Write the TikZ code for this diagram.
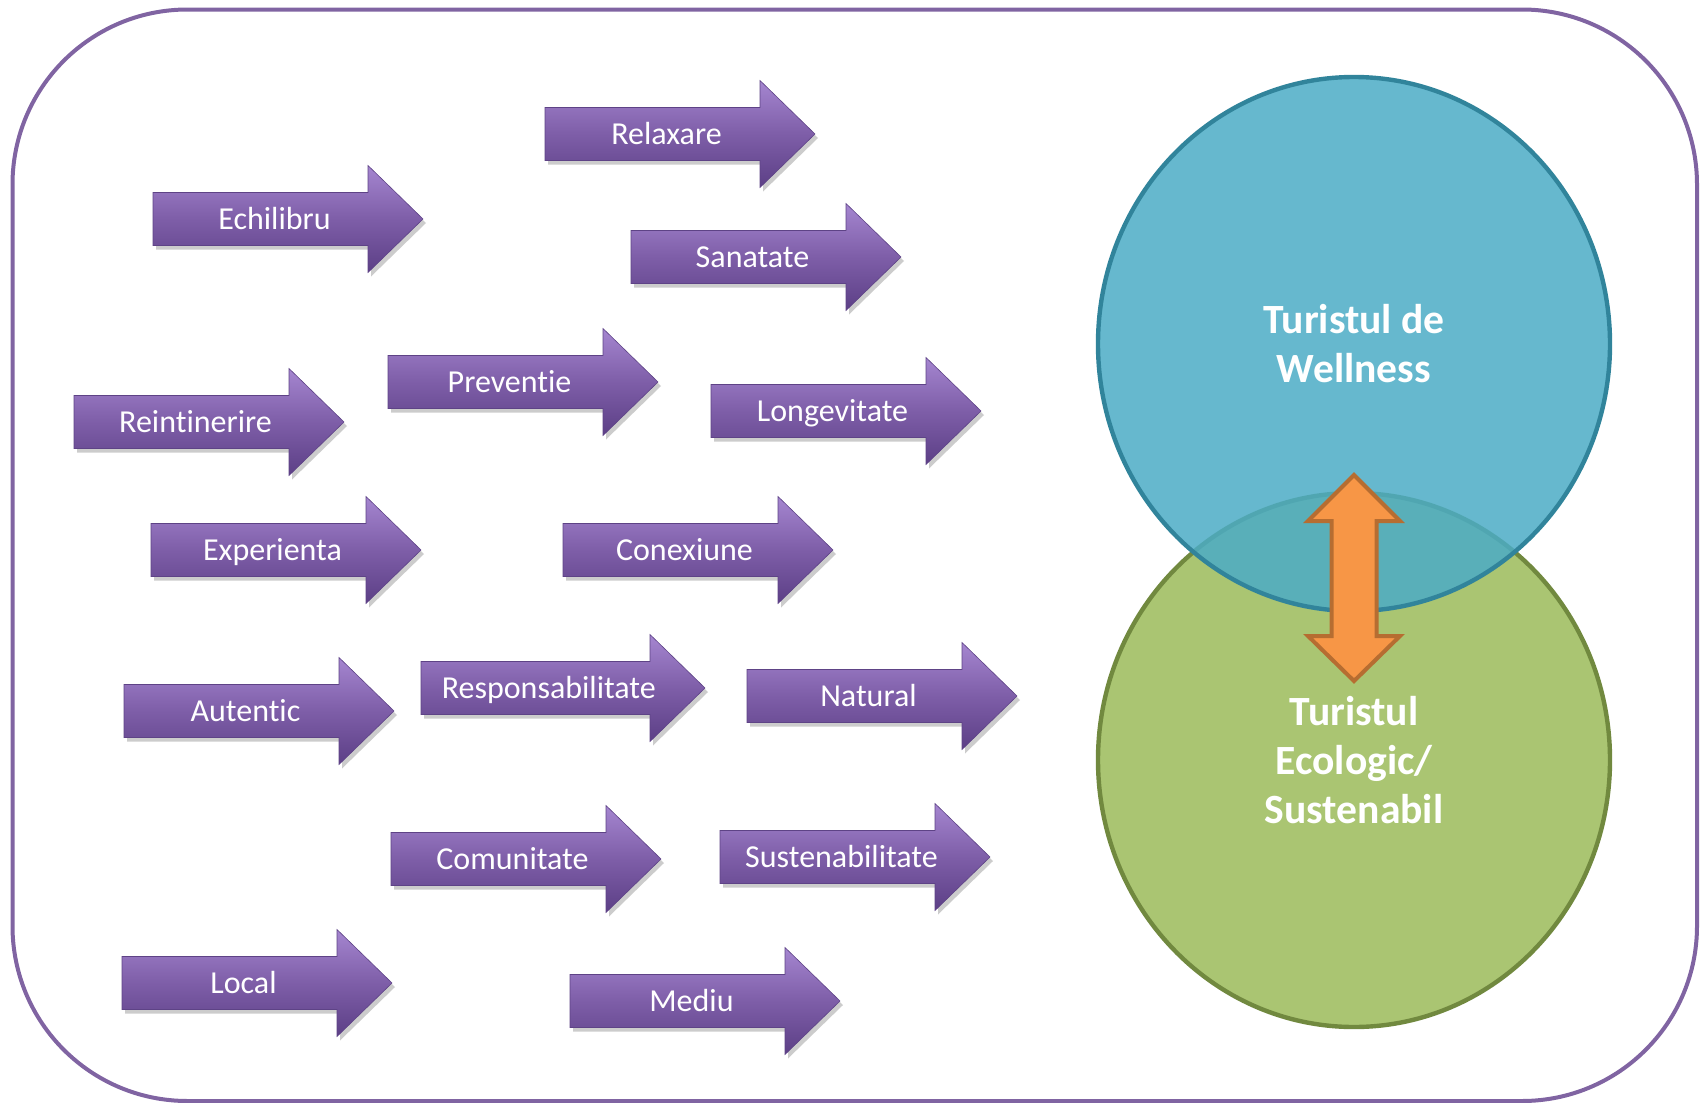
\documentclass[tikz,border=0pt]{standalone}
\usepackage{fontspec}
\setmainfont{Carlito}[Ligatures=NoCommon]
\usetikzlibrary{shapes.geometric}
\definecolor{framecol}{HTML}{8064A2}
\definecolor{arrtop}{HTML}{A586D0}
\definecolor{arrmid}{HTML}{7E5EA8}
\definecolor{arrbot}{HTML}{5C3F86}
\definecolor{arrline}{HTML}{5E4386}
\definecolor{bluefill}{HTML}{4BACC6}
\definecolor{blueline}{HTML}{31849B}
\definecolor{greenfill}{HTML}{9BBB59}
\definecolor{greenline}{HTML}{71893F}
\definecolor{orfill}{HTML}{F79646}
\definecolor{orline}{HTML}{B66D31}
\tikzset{
  framebox/.style={draw=framecol, line width=2pt, rounded corners=87.5pt},
  arrbody/.style={top color=arrtop, bottom color=arrbot, middle color=arrmid, draw=arrline, line width=0.3pt},
  arrshade/.style={fill=black, fill opacity=0.2},
  arrtext/.style={text=white, font=\fontsize{16}{19}\selectfont, inner sep=0pt, anchor=base},
  circ/.style={ellipse, line width=2.2pt, fill opacity=0.85, text opacity=1, text=white,
    minimum width=256pt, minimum height=267pt, align=center, inner sep=0pt,
    font=\bfseries\fontsize{20.8}{24.5}\selectfont},
  dblarrow/.style={fill=orfill, draw=orline, line width=2pt, line join=miter}
}
\newcommand\purplearrow[5]{%
  \begin{scope}[shift={(#2,#3)}]
    \fill[arrshade, shift={(3,4)}] (0,-26.5) -- ({#4-55},-26.5) -- ({#4-55},-53.5) -- (#4,0) -- ({#4-55},53.5) -- ({#4-55},26.5) -- (0,26.5) -- cycle;
    \path[arrbody] (0,-26.5) -- ({#4-55},-26.5) -- ({#4-55},-53.5) -- (#4,0) -- ({#4-55},53.5) -- ({#4-55},26.5) -- (0,26.5) -- cycle;
    \node[arrtext] (#1) at ({0.45*#4},10.5) {#5};
  \end{scope}}
\begin{document}
\begin{tikzpicture}[x=0.5pt,y=-0.5pt]
\useasboundingbox (0,0) rectangle (1703,1103);
\draw[framebox] (12.5,9.5) rectangle (1697,1101);

\purplearrow{relaxare}{545}{134}{270}{Relaxare}
\purplearrow{echilibru}{153}{219}{270}{Echilibru}
\purplearrow{sanatate}{631}{257}{270}{Sanatate}
\purplearrow{preventie}{388}{382}{270}{Preventie}
\purplearrow{reintinerire}{74}{422}{270}{Reintinerire}
\purplearrow{longevitate}{711}{411}{270}{Longevitate}
\purplearrow{experienta}{151}{550}{270}{Experienta}
\purplearrow{conexiune}{563}{550}{270}{Conexiune}
\purplearrow{autentic}{124}{711}{270}{Autentic}
\purplearrow{responsabilitate}{421}{688}{284}{Responsabilitate}
\purplearrow{natural}{747}{696}{270}{Natural}
\purplearrow{comunitate}{391}{859}{270}{Comunitate}
\purplearrow{sustenabilitate}{720}{857}{270}{Sustenabilitate}
\purplearrow{local}{122}{983}{270}{Local}
\purplearrow{mediu}{570}{1001}{270}{Mediu}

\node[circ, draw=greenline, fill=greenfill] (eco) at (1354,760) {Turistul\\Ecologic/\\Sustenabil};
\node[circ, draw=blueline, fill=bluefill] (wellness) at (1354,344) {Turistul de\\Wellness};

\draw[dblarrow] (1354,475) -- (1400,521) -- (1376.5,521) -- (1376.5,636) -- (1400,636)
  -- (1354,681) -- (1308,636) -- (1331.5,636) -- (1331.5,521) -- (1308,521) -- cycle;
\end{tikzpicture}
\end{document}
